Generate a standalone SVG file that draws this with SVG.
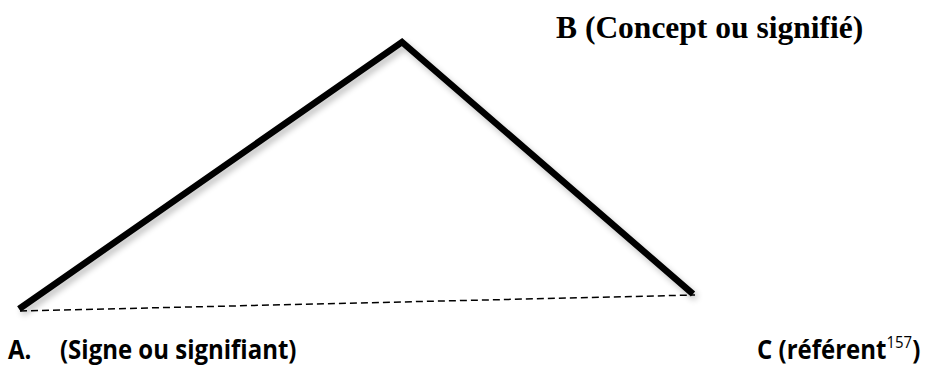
<svg xmlns="http://www.w3.org/2000/svg" width="926" height="371" viewBox="0 0 926 371">
<style>
.thick{fill:none;stroke:#000;stroke-width:6.5;stroke-linecap:butt;stroke-linejoin:miter}
.dash{fill:none;stroke:#000;stroke-width:1.5;stroke-dasharray:7 4}
.serif{font-family:"Liberation Serif","Times New Roman",serif;font-weight:bold;font-size:31.5px;fill:#000}
.sans{font-family:"Open Sans","Liberation Sans",sans-serif;font-weight:bold;font-size:24px;fill:#000}
</style>
<defs>
<filter id="sh" x="-10%" y="-10%" width="120%" height="130%">
<feGaussianBlur in="SourceAlpha" stdDeviation="3"/>
<feOffset dx="3" dy="4" result="b"/>
<feComponentTransfer><feFuncA type="linear" slope="0.25"/></feComponentTransfer>
<feMerge><feMergeNode/><feMergeNode in="SourceGraphic"/></feMerge>
</filter>
</defs>
<g id="connectors">
<polyline class="thick" filter="url(#sh)" points="19,309 402,42 693,294"/>
<line class="dash" x1="20" y1="311" x2="695" y2="295"/>
</g>
<g id="nodeB"><text class="serif" x="556" y="38">B (Concept ou signifié)</text></g>
<g id="nodeA" transform="translate(0,359) scale(1,1.12)"><text class="sans" x="8" y="0">A.</text><text class="sans" x="60" y="0">(Signe ou signifiant)</text></g>
<g id="nodeC" transform="translate(0,359) scale(1,1.12)"><text class="sans" x="757" y="0">C (référent<tspan font-weight="normal" font-size="15" dy="-10">157</tspan><tspan dy="10">)</tspan></text></g>
</svg>
